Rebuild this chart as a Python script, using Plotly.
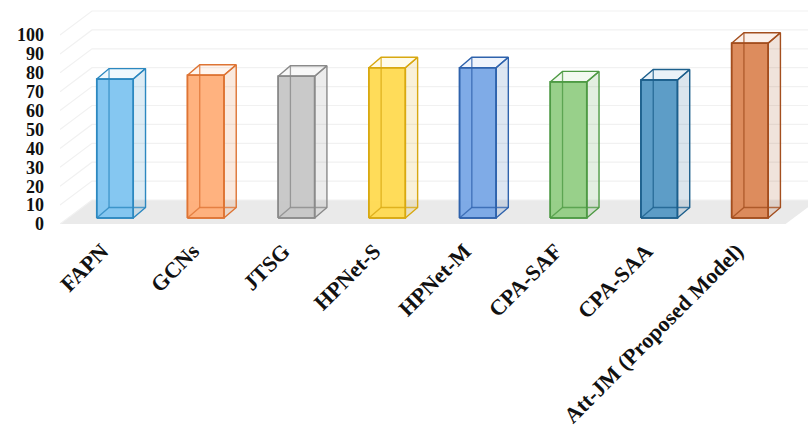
import plotly.graph_objects as go

categories = ["FAPN", "GCNs", "JTSG", "HPNet-S", "HPNet-M", "CPA-SAF", "CPA-SAA", "Att-JM (Proposed Model)"]
accuracy = [73.5, 75.5, 75, 79.5, 79.5, 72, 73, 92.5]
face_colors = ["#7EC4F0", "#FFAE78", "#C6C6C6", "#FFDA50", "#78A6E6", "#92CE84", "#5498C4", "#DB8654"]
edge_colors = ["#2C88C0", "#DE7434", "#8A8A8A", "#D8A810", "#2E62AC", "#4E9A44", "#1C5F8C", "#A34E1E"]
y_ticks = list(range(0, 101, 10))

# Scale of the plotting area, used to express the oblique depth in data units.
PX_PER_CAT = 90.7
PX_PER_VAL = 1.89
WALL_DX = 32 / PX_PER_CAT
WALL_DY = 24 / PX_PER_VAL
BAR_DX = 12.3 / PX_PER_CAT
BAR_DY = 10.5 / PX_PER_VAL
BAR_IN_X = 8 / PX_PER_CAT
BAR_IN_Y = 6 / PX_PER_VAL
BAR_W = 36.5 / PX_PER_CAT
LABEL_SHIFT = 5 / PX_PER_CAT
FLOOR_L, FLOOR_R = -0.518, 7.482


def rgba(hex_color, alpha):
    r, g, b = (int(hex_color[i:i + 2], 16) for i in (1, 3, 5))
    return f"rgba({r},{g},{b},{alpha})"


fig = go.Figure()

# Floor of the chart
fig.add_trace(go.Scatter(
    x=[FLOOR_L, FLOOR_R, FLOOR_R + WALL_DX, FLOOR_L + WALL_DX, FLOOR_L],
    y=[0, 0, WALL_DY, WALL_DY, 0],
    mode="lines", fill="toself", fillcolor="#EAEAEA", line=dict(width=0),
    hoverinfo="skip", showlegend=False,
))

# Gridlines running along the left and back walls
grid_x, grid_y = [], []
for t in y_ticks:
    grid_x += [FLOOR_L, FLOOR_L + WALL_DX, FLOOR_R + WALL_DX, None]
    grid_y += [t, t + WALL_DY, t + WALL_DY, None]
fig.add_trace(go.Scatter(
    x=grid_x, y=grid_y, mode="lines", line=dict(color="#F1F1F1", width=1.2),
    hoverinfo="skip", showlegend=False,
))


def add_face(xs, ys, fill, edge, width=1.4):
    fig.add_trace(go.Scatter(
        x=xs + xs[:1], y=ys + ys[:1], mode="lines", fill="toself",
        fillcolor=fill, line=dict(color=edge, width=width),
        hoverinfo="skip", showlegend=False,
    ))


# Each bar is a translucent box; the hidden rear edges stay visible through the front
for i, value in enumerate(accuracy):
    x0 = i + BAR_IN_X - BAR_W / 2
    x1 = x0 + BAR_W
    y0 = BAR_IN_Y
    y1 = BAR_IN_Y + value
    fill, edge = face_colors[i], edge_colors[i]
    add_face([x1, x1 + BAR_DX, x1 + BAR_DX, x1],
             [y0, y0 + BAR_DY, y1 + BAR_DY, y1],
             rgba(edge, 0.16), edge)
    add_face([x0, x1, x1 + BAR_DX, x0 + BAR_DX],
             [y1, y1, y1 + BAR_DY, y1 + BAR_DY],
             rgba(fill, 0.12), edge)
    add_face([x0, x1, x1, x0], [y0, y0, y1, y1], rgba(fill, 0.95), edge)
    # Rear edges drawn last: bottom diagonal, rear rectangle
    fig.add_trace(go.Scatter(
        x=[x0, x0 + BAR_DX, x1 + BAR_DX, None, x0 + BAR_DX, x0 + BAR_DX],
        y=[y0, y0 + BAR_DY, y0 + BAR_DY, None, y0 + BAR_DY, y1 + BAR_DY],
        mode="lines", line=dict(color=rgba(edge, 0.8), width=1.3),
        hoverinfo="skip", showlegend=False,
    ))
    fig.add_trace(go.Scatter(
        x=[x0, x0, x1, x1, x0], y=[y0, y1, y1, y0, y0],
        mode="lines", line=dict(color=edge, width=1.6),
        hoverinfo="skip", showlegend=False,
    ))

fig.update_layout(
    width=808, height=428,
    margin=dict(l=60, r=0, t=0, b=204),
    paper_bgcolor="white", plot_bgcolor="white",
    showlegend=False,
    font=dict(family="Liberation Serif", color="#111111"),
)
fig.update_xaxes(
    range=[FLOOR_L, FLOOR_L + 748 / PX_PER_CAT],
    tickmode="array", tickvals=[i - LABEL_SHIFT for i in range(len(categories))],
    ticktext=[f"<b>{c}</b>" for c in categories],
    tickangle=-45, tickfont=dict(size=22, family="Liberation Serif", color="#111111"),
    showgrid=False, zeroline=False, showline=False, ticks="", ticklabelstandoff=9,
)
fig.update_yaxes(
    range=[0, 224 / PX_PER_VAL],
    tickmode="array", tickvals=y_ticks, ticktext=[f"<b>{t}</b>" for t in y_ticks],
    tickfont=dict(size=18, family="Liberation Serif", color="#111111"),
    showgrid=False, zeroline=False, showline=False, ticks="", ticklabelstandoff=15,
)

fig.write_html("out.html")
